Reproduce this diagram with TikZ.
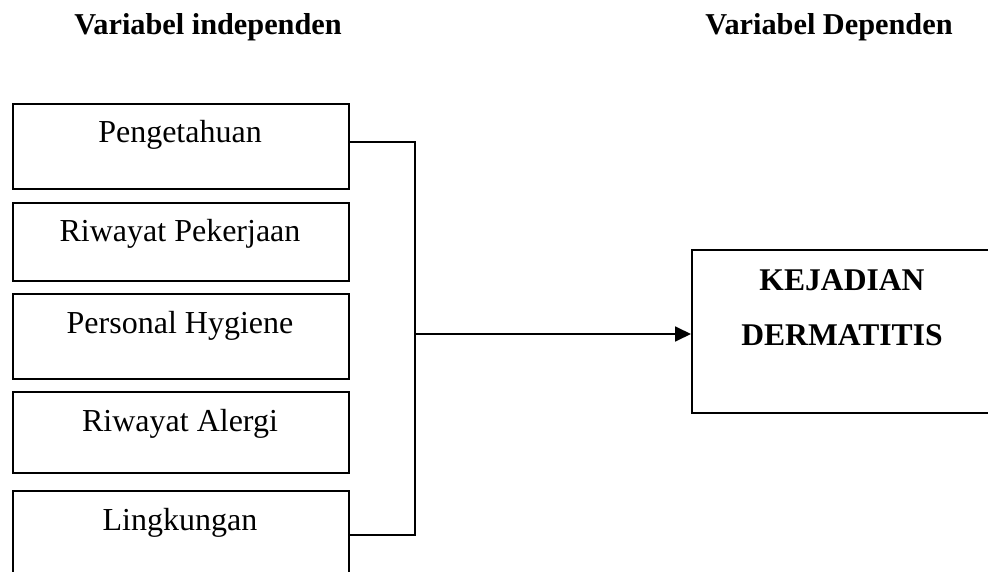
\documentclass[tikz,border=0pt]{standalone}
\usepackage{fontspec}
\setmainfont{Liberation Serif}
\usetikzlibrary{arrows.meta}
\tikzset{
  varbox/.style={draw, line width=1.8pt, minimum width=336pt, minimum height=85pt, inner sep=0pt, anchor=north west},
  boxtext/.style={anchor=base, inner sep=0pt, font=\fontsize{32}{38}\selectfont},
  titletext/.style={anchor=base, inner sep=0pt, font=\fontsize{30.3}{36}\selectfont\bfseries},
  depbox/.style={draw, line width=1.8pt, minimum width=330pt, minimum height=163pt, inner sep=0pt, anchor=north west},
  deptext/.style={anchor=base, inner sep=0pt, font=\fontsize{31.6}{38}\selectfont\bfseries},
  link/.style={line width=1.8pt}
}
\begin{document}
\begin{tikzpicture}[x=1pt,y=-1pt]
\useasboundingbox (0,0) rectangle (988,572);
\clip (0,0) rectangle (988,572);
\node[titletext] (t1) at (208,35) {Variabel independen};
\node[titletext] (t2) at (829,35) {Variabel Dependen};
\node[varbox] (b1) at (12,103) {};
\node[varbox, minimum height=78pt] (b2) at (12,202) {};
\node[varbox] (b3) at (12,293) {};
\node[varbox, minimum height=81pt] (b4) at (12,391) {};
\node[varbox, minimum height=90pt] (b5) at (12,490) {};
\node[boxtext] (l1) at (180,143) {Pengetahuan};
\node[boxtext] (l2) at (180,242) {Riwayat Pekerjaan};
\node[boxtext] (l3) at (180,333) {Personal Hygiene};
\node[boxtext] (l4) at (180,431) {Riwayat Alergi};
\node[boxtext] (l5) at (180,530) {Lingkungan};
\node[depbox] (kd) at (691,249) {};
\node[deptext] (k1) at (842,290) {KEJADIAN};
\node[deptext] (k2) at (842,345) {DERMATITIS};
\coordinate (top) at (415,142);
\coordinate (bot) at (415,535);
\coordinate (j) at (415,334);
\draw[link] (b1.east |- top) -- (top) -- (bot) -- (b5.east |- bot);
\draw[link, -{Triangle[length=16pt,width=15pt]}] (j) -- (j -| kd.west);
\end{tikzpicture}
\end{document}
